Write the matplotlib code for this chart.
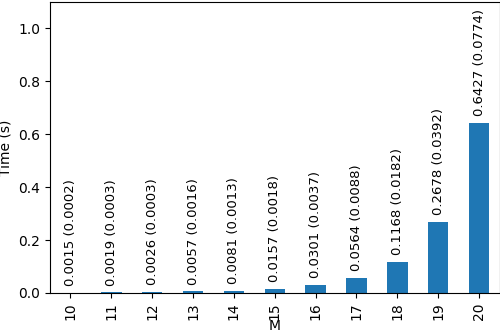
import matplotlib
matplotlib.use("Agg")
import matplotlib.pyplot as plt
import numpy as np

# problem size M and timing results
m_values = [10, 11, 12, 13, 14, 15, 16, 17, 18, 19, 20]
mean_time = [0.0015, 0.0019, 0.0026, 0.0057, 0.0081, 0.0157, 0.0301, 0.0564, 0.1168, 0.2678, 0.6427]
std_time = [0.0002, 0.0003, 0.0003, 0.0016, 0.0013, 0.0018, 0.0037, 0.0088, 0.0182, 0.0392, 0.0774]

fig = plt.figure(figsize=(5, 3.34), dpi=100)
ax = fig.add_axes([50 / 500, 41 / 334, 449.5 / 500, 291 / 334])

x = np.arange(len(m_values))
ax.bar(x, mean_time, width=0.5, color='#1f77b4')

# annotate each bar with "mean (std)"
for xi, mu, sd in zip(x, mean_time, std_time):
    ax.annotate(f"{mu:.4f} ({sd:.4f})", xy=(xi, mu), xytext=(0, 5),
                textcoords='offset points', rotation=90,
                ha='center', va='bottom', fontsize=9.5)

ax.set_xticks(x)
ax.set_xticklabels([str(m) for m in m_values], rotation=90)
ax.set_xlim(-0.5, len(m_values) - 0.5)
ax.set_ylim(0, 1.1)
ax.set_yticks([0.0, 0.2, 0.4, 0.6, 0.8, 1.0])
ax.set_xlabel('M', labelpad=-1)
ax.set_ylabel('Time (s)')

fig.savefig('out.png', dpi=100)
